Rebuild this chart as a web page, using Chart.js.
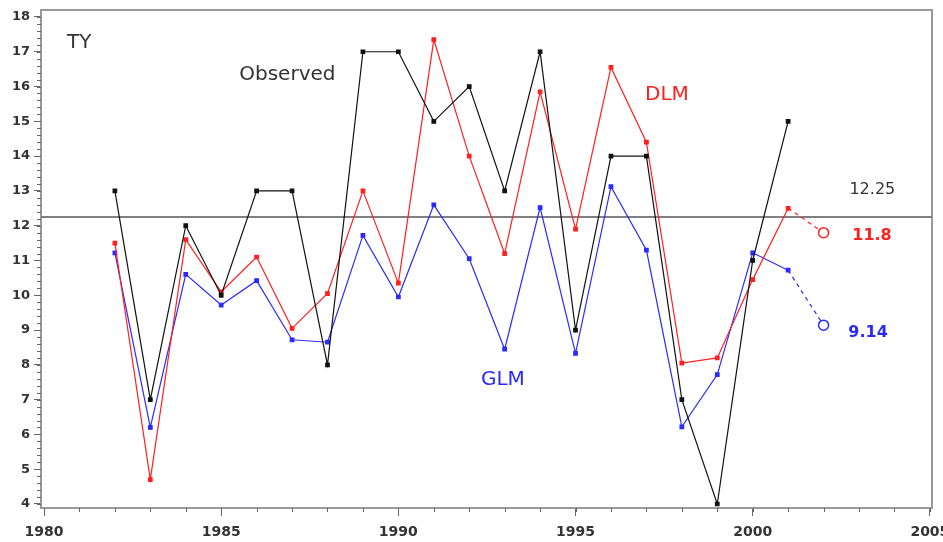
<!DOCTYPE html>
<html>
<head>
<meta charset="utf-8">
<script src="https://cdn.jsdelivr.net/npm/chart.js@4.4.1/dist/chart.umd.min.js"></script>
<style>
  html, body { margin: 0; padding: 0; background: #fff; }
  #wrap { width: 943px; height: 542px; }
</style>
</head>
<body>
<div id="wrap"><canvas id="ty"></canvas></div>
<script>
// observed and fitted typhoon counts
var years = [1982, 1983, 1984, 1985, 1986, 1987, 1988, 1989, 1990, 1991,
             1992, 1993, 1994, 1995, 1996, 1997, 1998, 1999, 2000, 2001];
var observed = [13, 7, 12, 10, 13, 13, 8, 17, 17, 15,
                16, 13, 17, 9, 14, 14, 7, 4, 11, 15];
var dlm = [11.5, 4.7, 11.6, 10.1, 11.1, 9.05, 10.05, 13.0, 10.35, 17.35,
           14.0, 11.2, 15.85, 11.9, 16.55, 14.4, 8.05, 8.2, 10.45, 12.5];
var glm = [11.22, 6.2, 10.6, 9.72, 10.42, 8.72, 8.65, 11.72, 9.95, 12.6,
           11.05, 8.45, 12.52, 8.33, 13.12, 11.3, 6.22, 7.72, 11.22, 10.72];
var forecastYear = 2002;
var dlmForecast = 11.8;
var glmForecast = 9.14;
var meanLevel = 12.25;
var xRange = [1979.915, 2005.06];
var yRange = [3.885, 18.2];

function pts(xs, ys) {
  return xs.map(function (x, i) { return { x: x, y: ys[i] }; });
}

var red = "#ff2020", blue = "#2a2aff", black = "#111111";

// text written into the plot, placed in data coordinates
var notes = [
  { text: "TY", x: 1980.65, y: 17.25, color: "#333", font: "20px 'DejaVu Sans'" },
  { text: "Observed", x: 1985.51, y: 16.33, color: "#333", font: "20px 'DejaVu Sans'" },
  { text: "DLM", x: 1996.96, y: 15.77, color: red, font: "20px 'DejaVu Sans'" },
  { text: "GLM", x: 1992.33, y: 7.57, color: blue, font: "20px 'DejaVu Sans'" },
  { text: String(meanLevel), x: 2002.73, y: 13.03, color: "#333", font: "16px 'DejaVu Sans'" },
  { text: String(dlmForecast), x: 2002.81, y: 11.71, color: red, font: "bold 16px 'DejaVu Sans'" },
  { text: String(glmForecast), x: 2002.70, y: 8.92, color: blue, font: "bold 16px 'DejaVu Sans'" }
];

var extras = {
  id: "extras",
  beforeDatasetsDraw: function (chart) {
    var c = chart.ctx, a = chart.chartArea;
    c.save();
    c.strokeStyle = "#999";
    c.lineWidth = 2;
    c.strokeRect(a.left, a.top, a.right - a.left, a.bottom - a.top);
    // minor ticks
    var xs = chart.scales.x, ys = chart.scales.y;
    c.lineWidth = 1;
    c.strokeStyle = "#666";
    c.beginPath();
    for (var yr = 1980; yr <= 2005; yr++) {
      var px = Math.round(xs.getPixelForValue(yr)) + 0.5;
      c.moveTo(px, a.bottom);
      c.lineTo(px, a.bottom + 4);
    }
    for (var k = 20; k <= 90; k++) {
      var py = Math.round(ys.getPixelForValue(k / 5)) + 0.5;
      c.moveTo(a.left, py);
      c.lineTo(a.left - 4, py);
    }
    c.stroke();
    c.restore();
  },
  afterDatasetsDraw: function (chart) {
    var c = chart.ctx;
    var xs = chart.scales.x, ys = chart.scales.y;
    c.save();
    c.textAlign = "left";
    c.textBaseline = "middle";
    notes.forEach(function (n) {
      c.font = n.font;
      c.fillStyle = n.color;
      c.fillText(n.text, xs.getPixelForValue(n.x), ys.getPixelForValue(n.y));
    });
    c.restore();
  }
};

function lastPointOnly(size) {
  return function (ctx) { return ctx.dataIndex === 1 ? size : 0; };
}

new Chart("ty", {
  type: "line",
  data: {
    datasets: [
      { label: "Observed", data: pts(years, observed), borderColor: black, backgroundColor: black,
        borderWidth: 1.2, pointStyle: "rect", pointRadius: 2.5 },
      { label: "DLM", data: pts(years, dlm), borderColor: red, backgroundColor: red,
        borderWidth: 1.2, pointStyle: "rect", pointRadius: 2.5 },
      { label: "GLM", data: pts(years, glm), borderColor: blue, backgroundColor: blue,
        borderWidth: 1.2, pointStyle: "rect", pointRadius: 2.5 },
      { label: "DLM forecast", data: pts([years[years.length - 1], forecastYear], [dlm[dlm.length - 1], dlmForecast]),
        borderColor: red, backgroundColor: "#fff", borderWidth: 1.2, borderDash: [4, 4],
        pointRadius: lastPointOnly(5), pointBorderWidth: 1.5, pointBorderColor: red },
      { label: "GLM forecast", data: pts([years[years.length - 1], forecastYear], [glm[glm.length - 1], glmForecast]),
        borderColor: blue, backgroundColor: "#fff", borderWidth: 1.2, borderDash: [4, 4],
        pointRadius: lastPointOnly(5), pointBorderWidth: 1.5, pointBorderColor: blue },
      { label: "Mean", data: pts(xRange, [meanLevel, meanLevel]), borderColor: "#808080",
        borderWidth: 2, pointRadius: 0 }
    ]
  },
  options: {
    responsive: true,
    maintainAspectRatio: false,
    animation: false,
    layout: { padding: { top: 10, right: 11, left: 0, bottom: 0 } },
    plugins: { legend: { display: false }, tooltip: { enabled: false } },
    scales: {
      x: {
        type: "linear", min: xRange[0], max: xRange[1],
        afterFit: function (s) { s.height = 34; s.paddingRight = 0; s.paddingLeft = 0; },
        border: { color: "#999", width: 2 },
        grid: { drawOnChartArea: false, tickLength: 8, color: "#666" },
        ticks: { stepSize: 5, includeBounds: false, padding: 8, color: "#333",
                 font: { family: "DejaVu Sans", size: 14, weight: "bold" },
                 callback: function (v) { return String(v); } }
      },
      y: {
        type: "linear", min: yRange[0], max: yRange[1],
        afterFit: function (s) { s.width = 41; s.paddingTop = 0; s.paddingBottom = 0; },
        border: { color: "#999", width: 2 },
        grid: { drawOnChartArea: false, tickLength: 7, color: "#666" },
        ticks: { stepSize: 1, includeBounds: false, padding: 4, color: "#333",
                 font: { family: "DejaVu Sans", size: 13, weight: "bold" } }
      }
    }
  },
  plugins: [extras]
});
</script>
</body>
</html>
